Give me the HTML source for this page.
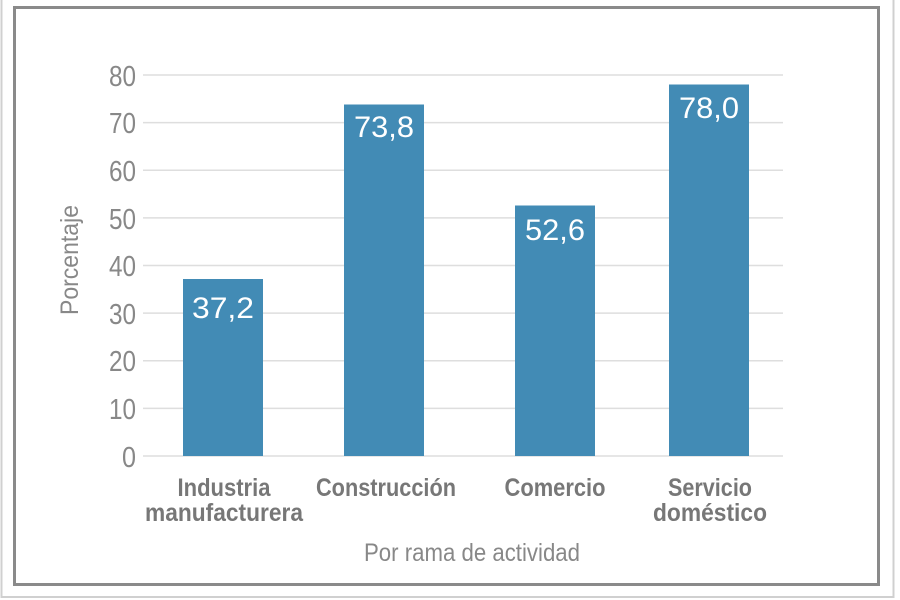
<!DOCTYPE html>
<html><head><meta charset="utf-8"><style>
html,body{margin:0;padding:0;background:#fff;}
svg{display:block;font-family:"Liberation Sans Narrow","Liberation Sans",sans-serif;}
</style></head><body>
<svg width="900" height="600" viewBox="0 0 900 600" xmlns="http://www.w3.org/2000/svg">
<rect x="0" y="0" width="900" height="600" fill="#fff"/>
<rect x="1.5" y="-2" width="892" height="599" fill="none" stroke="#d0d0d0" stroke-width="2"/>
<rect x="14.5" y="7.5" width="864" height="577" fill="none" stroke="#8a8a8a" stroke-width="3"/>
<g stroke="#dedede" stroke-width="1.5">
<line x1="143" x2="783" y1="75" y2="75"/>
<line x1="143" x2="783" y1="122.6" y2="122.6"/>
<line x1="143" x2="783" y1="170.3" y2="170.3"/>
<line x1="143" x2="783" y1="217.9" y2="217.9"/>
<line x1="143" x2="783" y1="265.5" y2="265.5"/>
<line x1="143" x2="783" y1="313.1" y2="313.1"/>
<line x1="143" x2="783" y1="360.8" y2="360.8"/>
<line x1="143" x2="783" y1="408.4" y2="408.4"/>
<line x1="143" x2="783" y1="456" y2="456"/>
</g>
<g fill="#888" font-size="29" text-anchor="end">
<text x="136" y="86" textLength="27" lengthAdjust="spacingAndGlyphs">80</text>
<text x="136" y="133" textLength="27" lengthAdjust="spacingAndGlyphs">70</text>
<text x="136" y="181" textLength="27" lengthAdjust="spacingAndGlyphs">60</text>
<text x="136" y="229" textLength="27" lengthAdjust="spacingAndGlyphs">50</text>
<text x="136" y="276" textLength="27" lengthAdjust="spacingAndGlyphs">40</text>
<text x="136" y="324" textLength="27" lengthAdjust="spacingAndGlyphs">30</text>
<text x="136" y="371" textLength="27" lengthAdjust="spacingAndGlyphs">20</text>
<text x="136" y="419" textLength="27" lengthAdjust="spacingAndGlyphs">10</text>
<text x="136" y="467" textLength="14" lengthAdjust="spacingAndGlyphs">0</text>
</g>
<text transform="translate(78,260) rotate(-90)" text-anchor="middle" fill="#888" font-size="25" textLength="110" lengthAdjust="spacingAndGlyphs">Porcentaje</text>
<g fill="#428bb5">
<rect x="183" y="279" width="80" height="177"/>
<rect x="344" y="104.5" width="80" height="351.5"/>
<rect x="515" y="205.5" width="80" height="250.5"/>
<rect x="669" y="84.5" width="80" height="371.5"/>
</g>
<g fill="#fff" font-size="30" font-family="Liberation Sans,sans-serif" text-anchor="middle">
<text x="223" y="318" textLength="62" lengthAdjust="spacingAndGlyphs">37,2</text>
<text x="384" y="137" textLength="60" lengthAdjust="spacingAndGlyphs">73,8</text>
<text x="555" y="240" textLength="60" lengthAdjust="spacingAndGlyphs">52,6</text>
<text x="709" y="118" textLength="60" lengthAdjust="spacingAndGlyphs">78,0</text>
</g>
<g fill="#777" font-size="25" font-weight="bold" text-anchor="middle">
<text x="224" y="496" textLength="93" lengthAdjust="spacingAndGlyphs">Industria</text>
<text x="224" y="521" textLength="158" lengthAdjust="spacingAndGlyphs">manufacturera</text>
<text x="386" y="496" textLength="140" lengthAdjust="spacingAndGlyphs">Construcción</text>
<text x="555" y="496" textLength="101" lengthAdjust="spacingAndGlyphs">Comercio</text>
<text x="710" y="496" textLength="84" lengthAdjust="spacingAndGlyphs">Servicio</text>
<text x="710" y="521" textLength="114" lengthAdjust="spacingAndGlyphs">doméstico</text>
</g>
<text x="472" y="561" text-anchor="middle" fill="#888" font-size="25" textLength="216" lengthAdjust="spacingAndGlyphs">Por rama de actividad</text>
</svg>
</body></html>
